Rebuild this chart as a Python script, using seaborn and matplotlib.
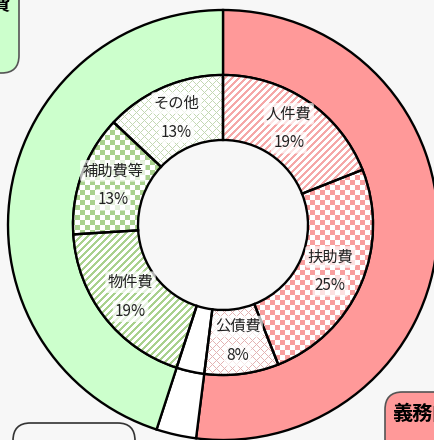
import numpy as np
import matplotlib
matplotlib.use("Agg")
import matplotlib.pyplot as plt
import matplotlib.colors as mcolors
from matplotlib.patches import FancyBboxPatch
import seaborn as sns

# data
outer_labels = ["義務的経費", "投資的経費", "その他の経費"]
outer_values = [52, 3, 45]
outer_colors = ["#ff9999", "#ffffff", "#ccffcc"]

inner_labels = ["人件費", "扶助費", "公債費", "普通建設事業費", "物件費", "補助費等", "その他"]
inner_values = [19, 25, 8, 3, 19, 13, 13]
inner_patterns = ["stripe", "checker", "lattice", "none", "stripe", "checker", "lattice"]
inner_colors = ["#f5a8a8", "#f89e9e", "#e3b3b3", "#ffffff", "#a9d18e", "#a9d18e", "#c3d8b3"]

sns.set_theme(style="white")
plt.rcParams["font.family"] = ["Noto Sans CJK JP", "DejaVu Sans"]

W, H = 435, 440
bg = "#f7f7f7"
fig = plt.figure(figsize=(W / 100, H / 100), dpi=100, facecolor=bg)
ax = fig.add_axes([0, 0, 1, 1])
ax.set_facecolor(bg)

R = 215.0  # pixels per unit radius
cx, cy = 223, 225
xlim = (-cx / R, (W - cx) / R)
ylim = (-(H - cy) / R, cy / R)

r_in_outer = 150 / R
ring_w = 65 / R

# outer ring
ax.pie(outer_values, radius=1.0, startangle=90, counterclock=False,
       colors=outer_colors,
       wedgeprops=dict(width=ring_w, edgecolor="black", linewidth=1.7))

# inner ring: white base used as clip paths
base, _ = ax.pie(inner_values, radius=r_in_outer, startangle=90, counterclock=False,
                 colors=["white"] * len(inner_values),
                 wedgeprops=dict(width=ring_w, edgecolor="none", linewidth=0))

# pattern fills
Y, X = np.mgrid[0:H, 0:W]
masks = {
    "stripe": ((X + Y) % 7) < 3,
    "checker": ((X // 5 + Y // 5) % 2) == 0,
    "lattice": (((X + Y) % 8) == 0) | (((X - Y) % 8) == 0),
}
for wedge, pat, col in zip(base, inner_patterns, inner_colors):
    if pat == "none":
        continue
    img = np.ones((H, W, 4))
    img[masks[pat], :3] = mcolors.to_rgb(col)
    im = ax.imshow(img, extent=(xlim[0], xlim[1], ylim[0], ylim[1]),
                   origin="upper", interpolation="nearest", zorder=2)
    im.set_clip_path(wedge)

# inner ring edges on top
edges, _ = ax.pie(inner_values, radius=r_in_outer, startangle=90, counterclock=False,
                  colors=["none"] * len(inner_values),
                  wedgeprops=dict(width=ring_w, edgecolor="black", linewidth=1.7, fill=False))
for e in edges:
    e.set_zorder(3)

# labels
total = sum(inner_values)
cum = 0
lab_r = 117 / R
dy = 14.5 / R
for name, v in zip(inner_labels, inner_values):
    mid = (cum + v / 2) / total * 2 * np.pi
    cum += v
    if v < 5:
        continue
    x, y = lab_r * np.sin(mid), lab_r * np.cos(mid)
    box = dict(boxstyle="round,pad=0.15", fc="white", ec="none", alpha=0.7)
    ax.text(x, y + dy, name, ha="center", va="center", fontsize=11,
            color="#222222", bbox=box, zorder=4)
    ax.text(x, y - dy, f"{v}%", ha="center", va="center", fontsize=11,
            color="#222222", bbox=box, zorder=4)

ax.set_xlim(*xlim)
ax.set_ylim(*ylim)
ax.set_aspect("auto")
ax.axis("off")


# legend-like boxes (partially outside the crop)
def px_box(x0, y0, x1, y1, fc, ec):
    p = FancyBboxPatch((x0 / W, 1 - y1 / H), (x1 - x0) / W, (y1 - y0) / H,
                       boxstyle="round,pad=0,rounding_size=0.04",
                       transform=ax.transAxes, fc=fc, ec=ec, lw=1.2,
                       clip_on=False, zorder=5)
    ax.add_patch(p)


px_box(-80, -40, 19, 73, outer_colors[2], "#555555")
ax.text(11 / W, 1 - 4 / H, outer_labels[2], transform=ax.transAxes, ha="right",
        va="center", fontsize=13.5, fontweight="bold", color="black", zorder=6)

px_box(385, 392, 520, 520, outer_colors[0], "#555555")
ax.text(392 / W, 1 - 413 / H, outer_labels[0], transform=ax.transAxes, ha="left",
        va="center", fontsize=14.5, fontweight="bold", color="black", zorder=6)

px_box(13, 423, 135, 520, "#f7f7f7", "#333333")
ax.text(42 / W, 1 - 451 / H, outer_labels[1], transform=ax.transAxes, ha="left",
        va="center", fontsize=13, fontweight="bold", color="#bbbbbb", zorder=6)

fig.savefig("out.png", dpi=100, facecolor=bg)
